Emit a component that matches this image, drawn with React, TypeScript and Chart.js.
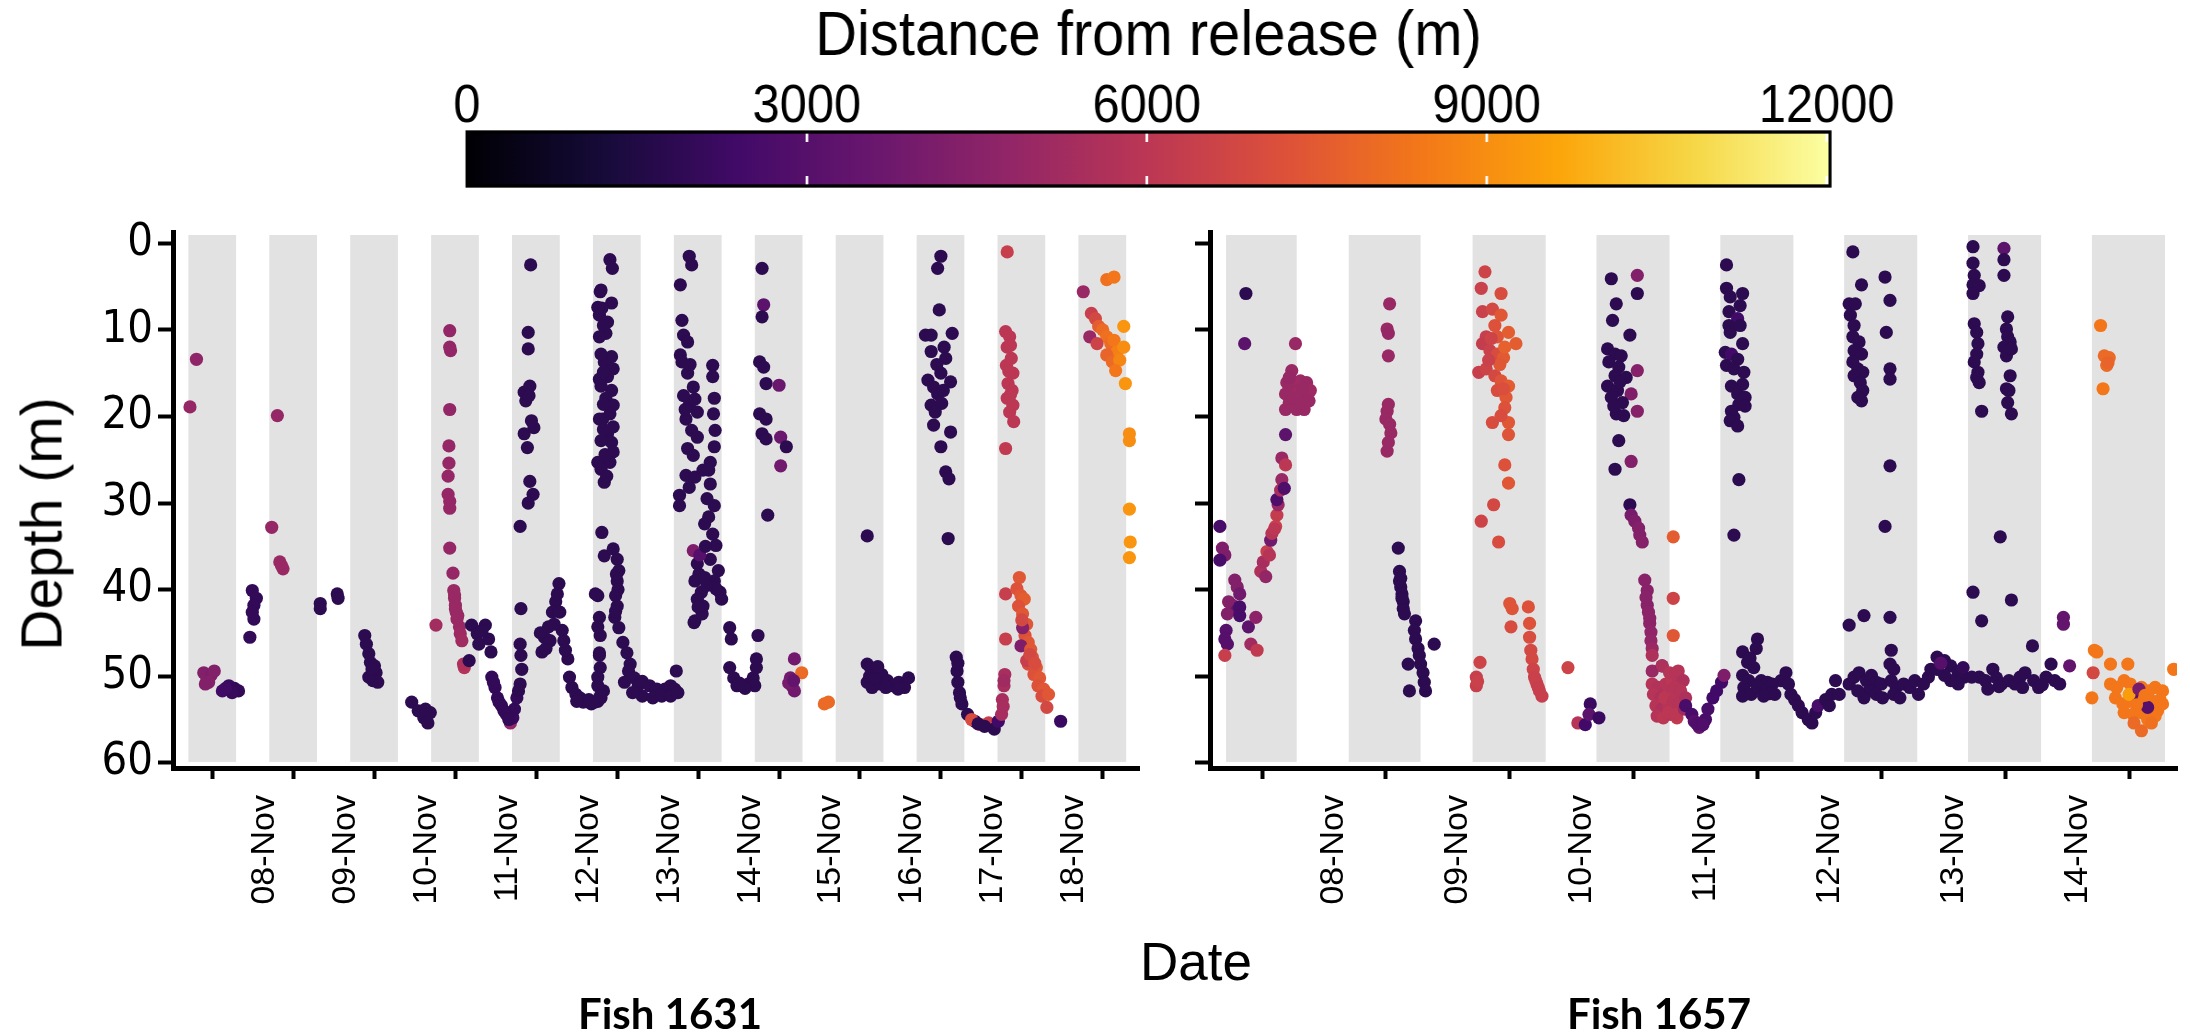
import React, { useEffect, useRef } from 'react';
import { Chart, registerables } from 'chart.js';

Chart.register(...registerables);

const FONT = "'Liberation Sans', Arial, Helvetica, sans-serif";
const NARROW_FONT = "'Liberation Sans Narrow', 'Arial Narrow', 'DejaVu Sans Condensed', 'Liberation Sans', sans-serif";

// ---------- colour bar ----------
const distanceTicks = [0, 3000, 6000, 9000, 12000];
const distanceTickLabels = ['0', '3000', '6000', '9000', '12000'];
const distanceMax = 12030;
const infernoStops = ['#000004', '#160b39', '#420a68', '#6a176e', '#932667', '#bc3754', '#dd513a', '#f37819', '#fca50a', '#f6d746', '#fcffa4'];

// ---------- axes ----------
const depthTicks = [0, 10, 20, 30, 40, 50, 60];
const leftTickDays = [8, 9, 10, 11, 12, 13, 14, 15, 16, 17, 18, 19];
const leftTickLabels = ['08-Nov', '09-Nov', '10-Nov', '11-Nov', '12-Nov', '13-Nov', '14-Nov', '15-Nov', '16-Nov', '17-Nov', '18-Nov', ''];
const rightTickDays = [8, 9, 10, 11, 12, 13, 14, 15];
const rightTickLabels = ['08-Nov', '09-Nov', '10-Nov', '11-Nov', '12-Nov', '13-Nov', '14-Nov', ''];

// night periods (grey bands), in days of November
const leftNights = [[7.70, 8.29], [8.70, 9.29], [9.70, 10.29], [10.70, 11.29], [11.70, 12.29], [12.70, 13.29], [13.70, 14.29], [14.70, 15.29], [15.70, 16.29], [16.70, 17.29], [17.70, 18.29], [18.70, 19.29]];
const rightNights = [[7.71, 8.28], [8.70, 9.28], [9.70, 10.29], [10.70, 11.29], [11.70, 12.29], [12.70, 13.29], [13.70, 14.29], [14.70, 15.29]];

// [day of November, depth (m), distance from release (m)]
const fish1631 = [
  [7.72, 18.9, 4900], [7.80, 13.4, 4700],
  [7.89, 49.6, 4300], [7.93, 50.3, 4300], [7.98, 49.9, 4200], [8.02, 49.4, 4300], [7.95, 50.7, 4400], [7.91, 50.9, 4300],
  [8.12, 51.7, 2400], [8.20, 51.1, 2200], [8.27, 51.4, 2000], [8.32, 51.7, 2000], [8.24, 51.9, 2100], [8.16, 51.4, 2300],
  [8.49, 40.1, 2000], [8.54, 41.0, 2000], [8.51, 41.8, 2000], [8.49, 42.6, 2000], [8.51, 43.4, 2000], [8.46, 45.5, 2000],
  [8.80, 19.9, 4900], [8.73, 32.8, 4900], [8.83, 36.8, 5000], [8.87, 37.6, 5000], [8.85, 37.2, 5000],
  [9.33, 41.6, 1800], [9.33, 42.2, 1800], [9.54, 40.5, 1800], [9.55, 41.0, 1800],
  [9.88, 45.3, 1800], [9.90, 46.3, 1800], [9.93, 47.4, 1800], [9.95, 48.4, 1800], [10.00, 48.8, 1800], [10.02, 49.6, 1800], [9.98, 50.5, 1800], [10.04, 50.7, 1800], [9.93, 50.1, 1800], [9.97, 49.2, 1800],
  [10.46, 53.0, 1800], [10.54, 54.0, 1800], [10.61, 54.8, 1800], [10.66, 55.4, 1800], [10.69, 54.2, 1800], [10.63, 53.8, 1800],
  [10.93, 10.1, 4800], [10.94, 12.4, 4800], [10.93, 12.0, 4800], [10.93, 19.2, 4800], [10.92, 23.4, 4900], [10.92, 25.4, 4900], [10.91, 26.9, 4900], [10.91, 29.0, 4900], [10.93, 29.8, 4900], [10.93, 30.6, 4900], [10.93, 35.2, 4900], [10.97, 38.1, 4900], [10.98, 40.1, 5000], [10.99, 41.0, 5000], [11.00, 41.8, 5000], [11.01, 42.6, 5000], [11.02, 43.4, 5000], [11.05, 44.3, 5000], [11.06, 45.1, 5100], [11.08, 45.9, 5200], [10.99, 40.6, 5000], [11.00, 42.2, 5000], [11.03, 43.0, 5000],
  [10.76, 44.1, 5300], [11.11, 49.0, 5800], [11.10, 48.6, 5600],
  [11.20, 44.1, 1800], [11.27, 45.1, 1800], [11.37, 44.1, 1800], [11.41, 45.7, 1800], [11.44, 47.2, 1800], [11.29, 46.3, 1800], [11.17, 48.2, 1800], [11.33, 44.7, 1800],
  [11.45, 50.1, 2000], [11.49, 51.3, 2000], [11.52, 52.5, 2000], [11.57, 53.4, 2000], [11.63, 54.4, 2200], [11.68, 55.4, 4800], [11.71, 54.8, 2200], [11.73, 53.8, 2000], [11.76, 52.5, 2000], [11.80, 50.9, 1800], [11.82, 49.2, 1800], [11.81, 47.6, 1800], [11.80, 46.3, 1800], [11.80, 32.7, 1800], [11.81, 42.2, 1800], [11.47, 50.7, 2000], [11.54, 53.0, 2000], [11.60, 54.0, 2000], [11.66, 55.0, 2000], [11.78, 51.7, 1800],
  [11.93, 2.5, 1800], [11.90, 10.3, 1800], [11.90, 12.2, 1800], [11.85, 17.2, 1800], [11.92, 16.5, 1800], [11.87, 18.2, 1800], [11.97, 21.3, 1800], [11.85, 22.0, 1800], [11.89, 23.6, 1800], [11.92, 27.5, 1800], [11.96, 29.0, 1800], [11.90, 30.0, 1800], [11.91, 17.6, 1800], [11.94, 20.5, 1800],
  [12.28, 39.3, 1800], [12.24, 41.4, 1800], [12.20, 42.6, 1800], [12.15, 44.3, 1800], [12.10, 45.5, 1800], [12.07, 47.2, 1800], [12.17, 45.9, 1800], [12.29, 42.6, 1800], [12.32, 44.7, 1800], [12.34, 45.9, 1800], [12.39, 48.0, 1800], [12.41, 50.1, 1800], [12.44, 51.3, 1800], [12.49, 52.1, 1800], [12.12, 46.8, 1800], [12.22, 44.0, 1800], [12.26, 40.5, 1800], [12.05, 45.0, 1800], [12.36, 47.0, 1800],
  [12.54, 52.5, 1800], [12.61, 52.9, 1800], [12.68, 53.2, 1800], [12.76, 52.9, 1800], [12.80, 52.5, 1800], [12.83, 51.7, 1800], [12.58, 53.0, 1800], [12.65, 52.7, 1800], [12.72, 53.0, 1800], [12.50, 52.9, 1800],
  [12.91, 1.9, 1800], [12.94, 2.9, 1800], [12.79, 5.6, 1800], [12.93, 6.9, 1800], [12.81, 7.5, 1800], [12.88, 9.1, 1800], [12.86, 10.4, 1800], [12.93, 13.1, 1800], [12.84, 13.7, 1800], [12.95, 14.5, 1800], [12.88, 15.4, 1800], [12.79, 15.8, 1800], [12.93, 17.0, 1800], [12.86, 17.9, 1800], [12.95, 18.7, 1800], [12.91, 19.7, 1800], [12.82, 20.3, 1800], [12.95, 21.2, 1800], [12.88, 22.0, 1800], [12.93, 23.0, 1800], [12.95, 24.1, 1800], [12.91, 25.3, 1800], [12.84, 27.6, 1800], [12.76, 25.3, 1800],
  [12.80, 5.4, 1800], [12.76, 7.4, 1800], [12.78, 8.3, 1800], [12.83, 9.5, 1800], [12.78, 10.8, 1800], [12.80, 12.8, 1800], [12.83, 14.9, 1800], [12.78, 15.7, 1800], [12.80, 16.5, 1800], [12.83, 18.6, 1800], [12.78, 20.3, 1800], [12.83, 21.5, 1800], [12.80, 22.8, 1800], [12.85, 24.4, 1800], [12.80, 26.1, 1800], [12.87, 26.9, 1800],
  [12.81, 33.4, 1800], [12.84, 36.1, 1800], [12.76, 40.7, 1800], [12.78, 43.2, 1800], [12.79, 45.3, 1800], [12.78, 47.3, 1800], [12.79, 49.0, 1800], [12.76, 51.1, 1800], [12.79, 52.3, 1800], [12.73, 40.5, 1800], [12.76, 44.3, 1800], [12.78, 47.6, 1800], [12.76, 50.1, 1800],
  [12.95, 35.3, 1800], [13.00, 36.5, 1800], [13.02, 37.8, 1800], [13.00, 39.0, 1800], [12.98, 40.7, 1800], [13.00, 41.9, 1800], [12.97, 43.2, 1800], [13.02, 44.4, 1800], [13.07, 46.1, 1800], [13.12, 47.3, 1800], [13.16, 48.6, 1800], [13.14, 49.4, 1800], [13.21, 50.2, 1800], [13.26, 51.1, 1800], [13.31, 50.6, 1800], [13.40, 51.1, 1800], [13.49, 51.5, 1800], [13.59, 51.5, 1800], [13.66, 51.1, 1800], [13.71, 51.5, 1800], [13.73, 49.4, 1800], [13.19, 51.9, 1800], [13.31, 52.3, 1800], [13.44, 52.5, 1800], [13.55, 52.3, 1800], [13.66, 52.3, 1800], [13.75, 51.9, 1800], [13.09, 50.7, 1800], [12.99, 38.2, 1800], [13.01, 40.0, 1800], [12.98, 42.5, 1800],
  [13.89, 1.5, 1800], [13.92, 2.5, 1800], [13.78, 4.8, 1800], [13.80, 8.9, 1800], [13.82, 10.6, 1800], [13.87, 11.4, 1800], [13.78, 12.9, 1800], [13.80, 13.7, 1800], [13.87, 15.0, 1800], [13.94, 16.6, 1800], [13.82, 17.6, 1800], [13.89, 18.7, 1800], [13.99, 19.5, 1800], [13.85, 20.3, 1800], [13.92, 21.6, 1800], [13.99, 22.4, 1800], [13.87, 23.7, 1800], [13.94, 24.5, 1800], [13.85, 26.8, 1800], [13.96, 27.0, 1800], [13.89, 28.2, 1800], [13.77, 29.1, 1800], [13.77, 30.3, 1800], [13.84, 19.2, 1800], [13.90, 14.0, 1800], [13.96, 18.0, 1800],
  [14.18, 14.1, 1800], [14.18, 15.4, 1800], [14.20, 17.9, 1800], [14.19, 19.7, 1800], [14.21, 21.6, 1800], [14.15, 25.3, 1800], [14.13, 26.2, 1800], [14.15, 27.8, 1800], [14.20, 30.3, 1800], [14.13, 31.6, 1800], [14.18, 33.6, 1800], [14.22, 34.9, 1800], [14.15, 36.5, 1800], [14.25, 37.8, 1800], [14.20, 39.0, 1800], [14.27, 40.3, 1800], [14.29, 41.1, 1800], [14.22, 39.9, 1800], [14.20, 23.5, 1800],
  [13.94, 35.5, 4200], [13.99, 37.0, 1800], [14.01, 38.2, 1800], [13.96, 39.0, 1800], [14.04, 40.3, 1800], [13.99, 41.1, 1800], [14.06, 41.9, 1800], [13.96, 43.6, 1800], [13.95, 43.8, 1800], [14.08, 38.6, 1800], [14.11, 39.5, 1800], [14.08, 32.4, 1800], [14.11, 29.5, 1800], [14.06, 26.2, 1800], [14.02, 36.0, 3000], [14.05, 42.8, 1800], [14.00, 42.0, 1800], [14.09, 35.0, 1800],
  [14.39, 44.4, 1800], [14.41, 45.7, 1800], [14.39, 49.0, 1800], [14.44, 50.2, 1800], [14.48, 51.1, 1800], [14.55, 51.1, 1800], [14.62, 50.9, 1800], [14.68, 50.2, 1800], [14.72, 49.0, 1800], [14.72, 48.0, 1800], [14.74, 45.3, 1800], [14.70, 51.1, 1800], [14.51, 50.8, 1800], [14.58, 51.4, 1800],
  [14.79, 2.9, 1800], [14.81, 7.1, 3200], [14.79, 8.5, 1800], [14.76, 13.7, 1800], [14.81, 14.3, 1800], [14.84, 16.2, 1800], [15.00, 16.4, 3600], [14.76, 19.7, 1800], [14.84, 20.3, 1800], [14.79, 22.0, 1800], [14.84, 22.6, 1800], [15.02, 22.4, 3600], [15.09, 23.5, 1800], [15.02, 25.7, 3800], [14.86, 31.4, 1800],
  [15.19, 48.0, 3800], [15.14, 50.2, 3800], [15.16, 51.1, 3600], [15.19, 51.7, 3800], [15.28, 49.6, 8000], [15.12, 50.8, 4000], [15.18, 50.5, 3400],
  [15.56, 53.2, 8000], [15.61, 53.0, 8000],
  [16.09, 33.8, 1800], [16.09, 48.6, 1800], [16.13, 49.0, 1800], [16.20, 49.4, 1800], [16.27, 49.8, 1800], [16.09, 50.7, 1800], [16.15, 51.3, 1800], [16.25, 50.9, 1800], [16.34, 50.5, 1800], [16.41, 51.1, 1800], [16.48, 50.7, 1800], [16.55, 51.3, 1800], [16.60, 50.2, 1800], [16.32, 51.3, 1800], [16.47, 51.5, 1800], [16.12, 50.0, 1800], [16.18, 50.2, 1800], [16.22, 48.9, 1800],
  [17.00, 1.5, 1800], [16.96, 2.9, 1800], [16.98, 7.7, 1800], [16.81, 10.6, 1800], [16.88, 10.6, 1800], [17.14, 10.4, 1800], [16.88, 12.5, 1800], [17.04, 12.0, 1800], [17.06, 13.3, 1800], [16.84, 15.8, 1800], [16.91, 16.6, 1800], [17.00, 15.0, 1800], [17.12, 16.0, 1800], [16.96, 17.4, 1800], [16.88, 18.7, 1800], [17.01, 18.5, 1800], [16.93, 19.5, 1800], [16.91, 21.0, 1800], [17.12, 21.8, 1800], [17.00, 23.5, 1800], [17.06, 26.4, 1800], [17.10, 27.2, 1800], [17.09, 34.1, 1800], [16.95, 14.0, 1800], [17.03, 17.0, 1800],
  [17.19, 47.8, 1800], [17.20, 49.4, 1800], [17.21, 50.7, 1800], [17.23, 51.9, 1800], [17.26, 53.2, 1800], [17.33, 54.4, 1800], [17.42, 55.2, 1800], [17.49, 55.6, 7400], [17.59, 55.4, 6400], [17.66, 56.1, 1800], [17.71, 55.2, 2400], [17.38, 55.0, 7000], [17.46, 55.5, 1800], [17.54, 55.8, 1800], [17.21, 48.5, 1800], [17.24, 52.5, 1800],
  [17.75, 54.4, 5400], [17.76, 52.7, 5400], [17.78, 51.1, 5400], [17.79, 49.8, 5400], [17.80, 45.7, 6400], [17.80, 40.5, 6400], [17.77, 53.5, 5400], [17.78, 50.5, 5200],
  [17.82, 1.0, 6400], [17.80, 10.2, 6000], [17.85, 10.8, 6000], [17.82, 12.0, 6000], [17.87, 13.3, 6000], [17.81, 14.1, 6000], [17.89, 15.0, 6000], [17.83, 16.2, 6000], [17.88, 17.0, 6000], [17.82, 17.9, 6000], [17.89, 18.7, 6000], [17.85, 19.5, 6000], [17.90, 20.6, 6000], [17.80, 23.7, 6200], [17.84, 14.8, 6000], [17.86, 11.8, 6000], [17.86, 17.5, 6000],
  [17.97, 38.6, 7400], [17.94, 39.9, 7200], [17.99, 40.7, 7400], [18.03, 41.1, 7600], [17.96, 41.9, 7200], [18.01, 42.8, 7400], [18.06, 44.0, 7400], [18.04, 45.3, 7200], [18.08, 46.1, 7400], [17.99, 46.5, 4200], [18.11, 46.9, 7400], [18.13, 47.8, 7200], [18.08, 48.6, 7000], [18.18, 49.0, 7400], [18.15, 49.8, 7200], [18.22, 50.2, 7400], [18.20, 51.1, 7200], [18.27, 51.5, 7400], [18.25, 52.3, 7000], [18.33, 52.1, 7400], [18.31, 53.6, 6800], [18.48, 55.2, 2200], [18.06, 48.2, 6400], [18.01, 44.4, 4400], [18.00, 43.5, 6800], [18.10, 47.5, 6800], [18.16, 48.5, 7000],
  [18.76, 5.6, 5000], [19.05, 4.2, 8200], [19.14, 3.9, 8400], [18.86, 8.1, 6400], [18.91, 8.7, 6800], [18.84, 10.8, 5000], [18.95, 9.6, 7600], [19.00, 10.0, 8000], [19.05, 10.8, 8200], [18.93, 11.6, 6600], [19.10, 11.6, 8000], [19.14, 11.2, 8400], [19.18, 12.5, 8600], [19.05, 12.9, 7800], [19.12, 13.7, 8000], [19.21, 13.5, 8800], [19.26, 9.6, 9200], [19.26, 12.0, 9000], [19.28, 16.2, 9200], [19.16, 14.7, 8400],
  [19.33, 22.0, 9000], [19.33, 22.8, 9000], [19.33, 30.7, 9200], [19.34, 34.5, 9200], [19.33, 36.3, 9200],
];

const fish1657 = [
  [7.87, 5.8, 1800], [7.86, 11.6, 3200],
  [7.66, 32.7, 2600], [7.68, 35.2, 4200], [7.70, 36.0, 4200], [7.66, 36.6, 2600], [7.78, 38.9, 4300], [7.80, 39.7, 4300], [7.82, 40.5, 3800], [7.73, 41.4, 4400], [7.76, 41.8, 4300], [7.80, 42.4, 3200], [7.82, 42.0, 2600], [7.72, 42.8, 4300], [7.82, 43.0, 2600], [7.71, 44.7, 3000], [7.70, 45.7, 3000], [7.72, 46.3, 3000], [7.70, 47.6, 6400],
  [7.89, 44.3, 3200], [7.95, 43.2, 4600], [7.91, 46.3, 5200], [7.96, 47.0, 6200],
  [7.99, 37.9, 5600], [8.01, 36.8, 5400], [8.04, 35.6, 6400], [8.07, 34.3, 3800], [8.08, 33.5, 5800], [8.11, 32.7, 6500], [8.12, 31.4, 6300], [8.13, 30.2, 5000], [8.12, 29.6, 2800], [8.15, 28.5, 5400], [8.16, 27.3, 5000], [8.18, 28.3, 2800], [8.16, 24.8, 5000], [8.19, 25.6, 6000], [8.19, 22.1, 3200], [8.03, 38.5, 4800], [8.06, 36.0, 5800], [8.10, 33.0, 6000],
  [8.24, 14.7, 5000], [8.20, 16.1, 5000], [8.26, 16.1, 5000], [8.31, 15.9, 5100], [8.36, 16.1, 5000], [8.19, 17.4, 5000], [8.24, 17.4, 5000], [8.30, 17.2, 5100], [8.35, 17.4, 5000], [8.39, 17.0, 5100], [8.22, 18.4, 5000], [8.27, 18.6, 5000], [8.32, 18.4, 5000], [8.38, 18.2, 5000], [8.19, 19.2, 5000], [8.28, 19.2, 5000], [8.34, 19.2, 5000], [8.27, 11.6, 5000], [8.22, 15.5, 4900], [8.33, 16.8, 5000], [8.28, 17.8, 5000],
  [9.03, 7.0, 5000], [9.01, 9.9, 5000], [9.02, 13.0, 5000], [9.02, 18.6, 5000], [9.01, 19.4, 5000], [9.00, 20.3, 5000], [9.03, 20.9, 5000], [9.04, 21.9, 5000], [9.02, 23.0, 5000], [9.01, 24.0, 5000], [9.02, 10.4, 4900],
  [9.10, 35.2, 1800], [9.11, 37.9, 1800], [9.12, 38.7, 1800], [9.12, 39.7, 1800], [9.13, 40.5, 1800], [9.14, 41.4, 1800], [9.14, 42.2, 1800], [9.15, 42.8, 1800], [9.24, 43.6, 1800], [9.23, 44.7, 1800], [9.24, 45.7, 1800], [9.26, 46.8, 1800], [9.27, 47.6, 1800], [9.28, 48.6, 1800], [9.30, 49.6, 1800], [9.31, 50.7, 1800], [9.32, 51.7, 1800], [9.18, 48.6, 1800], [9.19, 51.7, 1800], [9.39, 46.3, 1800], [9.11, 39.0, 1800], [9.13, 41.0, 1800],
  [9.80, 3.3, 6600], [9.77, 5.2, 6500], [9.93, 5.8, 7000], [9.78, 7.9, 6500], [9.86, 7.6, 6800], [9.93, 8.3, 7400], [9.88, 9.5, 7200], [9.81, 10.8, 6400], [9.90, 10.8, 7300], [9.99, 10.3, 7600], [10.05, 11.6, 7600], [9.78, 11.6, 6300], [9.84, 12.4, 6500], [9.90, 12.8, 7000], [9.95, 13.2, 7500], [9.75, 14.9, 6400], [9.81, 14.5, 6600], [9.88, 15.3, 6800], [9.93, 15.9, 7300], [9.99, 16.5, 7600], [9.90, 17.0, 7000], [9.97, 17.8, 7400], [9.96, 19.0, 7200], [9.86, 20.7, 7000], [9.99, 20.7, 7400], [9.99, 22.1, 7300], [9.93, 19.9, 7000], [9.85, 11.0, 6600], [9.92, 14.0, 7400], [9.96, 12.0, 7700], [9.83, 13.5, 6500], [9.95, 16.8, 7100],
  [9.96, 25.6, 7200], [9.99, 27.7, 7400], [9.87, 30.2, 6800], [9.77, 32.1, 6600], [9.91, 34.5, 7000],
  [10.00, 41.6, 7300], [10.02, 42.2, 7300], [10.15, 42.0, 7200], [10.01, 44.3, 7000], [10.16, 43.9, 7200], [10.16, 45.5, 7000], [10.17, 47.0, 6800], [10.18, 48.0, 6800], [10.19, 49.2, 6600], [10.20, 50.1, 6500], [10.22, 50.9, 6500], [10.24, 51.7, 6500], [10.26, 52.3, 6400], [10.21, 50.5, 6500], [10.23, 51.3, 6400],
  [9.76, 48.4, 6600], [9.73, 50.1, 6400], [9.73, 51.1, 6400], [9.74, 50.6, 6500],
  [10.47, 49.0, 6600], [10.55, 55.4, 5800], [10.61, 55.6, 2400], [10.65, 53.2, 2200], [10.64, 54.4, 3200], [10.72, 54.8, 2200],
  [10.82, 4.1, 1800], [11.03, 3.7, 4300], [11.03, 5.8, 1800], [10.86, 7.0, 1800], [10.83, 8.9, 1800], [10.97, 10.6, 1800], [10.79, 12.2, 1800], [10.85, 12.8, 1800], [10.90, 13.0, 1800], [10.80, 13.7, 1800], [10.88, 14.3, 1800], [11.03, 14.7, 4400], [10.85, 15.3, 1800], [10.94, 15.5, 1800], [10.79, 16.5, 1800], [10.87, 17.0, 1800], [10.98, 17.4, 4200], [10.82, 17.8, 1800], [10.91, 18.4, 1800], [10.86, 19.7, 1800], [10.92, 19.9, 1800], [11.03, 19.4, 4400], [10.88, 22.8, 1800], [10.98, 25.2, 4300], [10.85, 26.1, 1800], [10.89, 16.0, 1800], [10.84, 18.8, 1800],
  [10.97, 30.2, 1800], [10.98, 31.4, 4000], [11.01, 32.1, 4200], [11.04, 32.9, 4300], [11.05, 33.7, 4300], [11.07, 34.5, 4400], [11.09, 38.9, 4500], [11.11, 40.1, 4500], [11.11, 41.8, 4500], [11.12, 42.6, 4600], [11.13, 43.9, 4600], [11.14, 44.9, 4700], [11.14, 45.9, 4800], [11.15, 46.8, 5000], [11.15, 47.6, 5600], [11.15, 49.4, 5000], [11.23, 48.8, 2400], [11.10, 40.9, 4500], [11.13, 43.3, 4600],
  [11.32, 33.9, 7600], [11.32, 41.0, 6600], [11.32, 45.3, 7400],
  [11.15, 50.9, 5800], [11.20, 51.3, 5700], [11.26, 50.9, 5800], [11.31, 50.5, 6000], [11.36, 50.1, 5800], [11.16, 52.1, 5800], [11.22, 52.5, 5600], [11.27, 52.3, 5800], [11.33, 52.1, 6000], [11.18, 53.4, 5800], [11.23, 53.8, 5600], [11.28, 53.4, 5800], [11.34, 53.2, 6000], [11.19, 54.6, 5800], [11.24, 54.8, 6000], [11.30, 54.4, 5800], [11.35, 54.8, 6200], [11.23, 48.8, 5600], [11.29, 49.6, 5800], [11.36, 49.4, 5800], [11.40, 50.5, 5600], [11.33, 51.3, 5800], [11.38, 51.7, 5800], [11.25, 52.5, 6000], [11.32, 52.9, 5800], [11.37, 53.2, 5800], [11.42, 52.5, 5600], [11.28, 54.2, 6000], [11.34, 54.4, 6000], [11.41, 53.8, 5200],
  [11.42, 53.4, 2600], [11.47, 54.4, 2600], [11.49, 55.2, 3000], [11.53, 55.9, 3400], [11.58, 55.0, 2600], [11.60, 53.8, 2600], [11.64, 52.5, 2400], [11.67, 51.7, 2400], [11.71, 50.7, 2400], [11.73, 49.9, 4200], [11.51, 55.5, 2800], [11.56, 55.6, 2800],
  [11.75, 2.5, 1800], [11.75, 5.2, 1800], [11.78, 6.2, 1800], [11.88, 5.8, 1800], [11.77, 7.9, 1800], [11.86, 7.2, 1800], [11.84, 8.7, 2400], [11.77, 9.5, 1800], [11.78, 10.3, 1800], [11.86, 9.5, 1800], [11.88, 11.6, 1800], [11.74, 12.6, 1800], [11.79, 12.8, 2400], [11.84, 13.4, 1800], [11.75, 14.1, 1800], [11.81, 14.5, 1800], [11.89, 14.9, 1800], [11.88, 16.3, 1800], [11.79, 16.5, 1800], [11.84, 17.4, 1800], [11.90, 17.8, 1800], [11.85, 18.6, 1800], [11.90, 18.8, 1800], [11.79, 19.4, 1800], [11.81, 20.1, 1800], [11.78, 20.5, 1800], [11.84, 21.1, 1800], [11.85, 27.3, 1800], [11.81, 33.7, 1800],
  [11.88, 47.2, 1800], [12.00, 45.7, 1800], [11.99, 46.8, 1800], [11.92, 48.4, 1800], [11.97, 49.0, 1800], [11.88, 49.9, 1800], [11.93, 50.5, 1800], [11.89, 51.3, 1800], [11.88, 52.3, 1800], [11.95, 52.1, 1800], [12.00, 51.3, 1800], [12.03, 50.5, 1800], [12.08, 50.7, 1800], [12.12, 50.9, 1800], [12.07, 51.7, 1800], [12.14, 52.1, 1800], [12.19, 50.5, 1800], [12.23, 49.6, 1800], [12.25, 50.9, 1800], [12.27, 52.1, 1800], [12.30, 52.7, 1800], [12.33, 53.4, 1800], [12.36, 54.2, 1800], [12.41, 55.0, 1800], [12.44, 55.4, 1800], [12.47, 54.2, 1800], [12.49, 53.4, 2600], [12.55, 52.7, 1800], [12.60, 52.1, 1800], [12.63, 50.5, 1800], [12.58, 53.4, 1800], [12.66, 52.1, 1800], [11.94, 47.9, 1800], [12.10, 52.0, 1800], [12.05, 52.3, 1800],
  [12.77, 1.0, 1800], [12.84, 4.8, 1800], [12.74, 7.0, 1800], [12.79, 7.0, 1800], [12.75, 8.3, 1800], [12.78, 9.5, 1800], [12.77, 10.8, 1800], [12.82, 11.4, 1800], [12.78, 12.4, 1800], [12.84, 12.8, 1800], [12.77, 13.7, 1800], [12.81, 14.5, 1800], [12.85, 14.9, 1800], [12.78, 15.3, 1800], [12.83, 16.1, 1800], [12.85, 17.0, 1800], [12.81, 17.8, 1800], [12.84, 18.2, 1800], [13.03, 3.9, 1800], [13.07, 6.6, 1800], [13.04, 10.3, 1800], [13.07, 14.5, 1800], [13.07, 15.7, 1800], [13.07, 25.7, 1800], [13.03, 32.7, 1800], [12.74, 44.1, 1800], [12.86, 43.0, 1800], [13.07, 43.2, 1800], [13.08, 47.0, 1800],
  [12.74, 50.9, 1800], [12.78, 50.1, 1800], [12.82, 49.6, 1800], [12.88, 50.5, 1800], [12.92, 49.9, 1800], [12.96, 50.7, 1800], [13.00, 50.9, 1800], [12.90, 51.7, 1800], [12.86, 52.5, 1800], [12.81, 51.7, 1800], [12.96, 52.1, 1800], [13.01, 52.5, 1800], [13.07, 48.6, 1800], [13.10, 49.2, 1800], [13.08, 50.5, 1800], [13.12, 51.3, 1800], [13.10, 52.1, 1800], [13.15, 52.5, 1800], [13.18, 50.9, 1800], [13.23, 51.3, 1800], [13.27, 50.5, 1800], [13.30, 52.1, 1800], [13.34, 50.9, 1800], [13.38, 50.1, 1800], [13.40, 49.2, 1800], [13.45, 47.8, 1800], [13.51, 48.2, 1800], [13.56, 48.8, 1800], [13.62, 49.6, 1800], [13.67, 50.1, 1800], [13.66, 49.0, 2000], [13.62, 50.9, 1800], [13.56, 50.5, 1800], [13.51, 49.9, 1800], [13.45, 49.2, 1800], [13.73, 50.1, 1800], [13.48, 48.5, 3000],
  [13.74, 0.4, 1800], [13.74, 2.3, 1800], [13.75, 3.7, 1800], [13.74, 4.8, 1800], [13.79, 4.9, 1800], [13.74, 5.8, 1800], [13.75, 9.3, 1800], [13.77, 10.3, 1800], [13.78, 11.6, 1800], [13.77, 12.8, 1800], [13.75, 13.7, 1800], [13.78, 14.9, 1800], [13.77, 15.5, 1800], [13.79, 16.1, 1800], [13.81, 19.4, 1800], [13.99, 0.6, 3200], [13.99, 1.9, 1800], [13.99, 3.7, 1800], [14.02, 8.5, 1800], [14.01, 9.9, 1800], [14.02, 10.8, 1800], [14.04, 11.4, 1800], [13.99, 12.0, 1800], [14.01, 13.0, 1800], [14.05, 12.2, 1800], [14.04, 15.3, 1800], [14.01, 16.8, 1800], [14.03, 17.0, 1800], [14.02, 18.4, 1800], [14.05, 19.7, 1800], [13.96, 33.9, 1800], [13.74, 40.3, 1800], [13.81, 43.6, 1800], [14.05, 41.2, 1800],
  [13.79, 50.1, 1800], [13.84, 50.5, 1800], [13.90, 49.2, 1800], [13.93, 50.2, 1800], [13.97, 50.9, 1800], [14.03, 50.5, 1800], [14.08, 50.9, 1800], [14.12, 50.1, 1800], [14.16, 49.6, 1800], [14.22, 46.5, 1800], [14.23, 50.5, 1800], [14.27, 51.3, 1800], [14.33, 50.1, 1800], [14.37, 48.6, 1800], [14.40, 50.5, 1800], [14.44, 50.9, 1800], [13.95, 51.2, 1800], [14.14, 51.3, 1800], [13.86, 51.5, 1800], [14.47, 43.2, 3400], [14.47, 44.0, 3400], [14.52, 48.8, 3400], [14.30, 51.0, 1800],
  [14.77, 9.5, 8400], [14.80, 13.0, 8000], [14.84, 13.2, 8000], [14.82, 14.1, 8000], [14.79, 16.8, 8400], [14.83, 13.8, 7800],
  [14.72, 47.0, 8400], [14.74, 47.2, 8400], [14.85, 48.6, 8400], [14.99, 48.6, 8400], [14.71, 49.6, 6800], [14.70, 52.5, 8400], [14.85, 50.9, 8400], [14.90, 51.3, 8400], [14.96, 50.5, 8400], [15.01, 50.9, 8400], [15.04, 51.7, 8400], [15.10, 51.3, 8400], [15.16, 51.7, 8400], [15.21, 51.3, 8400], [15.27, 51.7, 8400], [14.89, 52.5, 8400], [14.95, 53.2, 8400], [15.00, 52.9, 8400], [15.07, 52.5, 3000], [15.12, 52.7, 8400], [15.19, 52.9, 8400], [15.25, 52.7, 8400], [14.96, 54.2, 8400], [15.03, 54.4, 8400], [15.10, 54.2, 8400], [15.16, 53.8, 8400], [15.23, 54.0, 8400], [15.27, 53.2, 8400], [15.04, 55.4, 8000], [15.10, 56.3, 8000], [15.15, 55.0, 8400], [15.21, 54.6, 8400], [15.36, 49.2, 8400], [15.00, 52.1, 9400], [15.15, 53.6, 3000], [15.08, 51.5, 4000], [15.13, 52.2, 8400], [15.06, 53.3, 8400], [15.18, 55.4, 8200],
];

function hexToRgb(h: string) {
  return [parseInt(h.slice(1, 3), 16), parseInt(h.slice(3, 5), 16), parseInt(h.slice(5, 7), 16)];
}
function inferno(t: number) {
  const c = Math.max(0, Math.min(1, t)) * (infernoStops.length - 1);
  const i = Math.min(Math.floor(c), infernoStops.length - 2);
  const f = c - i;
  const a = hexToRgb(infernoStops[i]);
  const b = hexToRgb(infernoStops[i + 1]);
  const m = a.map((v, k) => Math.round(v + (b[k] - v) * f));
  return `rgb(${m[0]},${m[1]},${m[2]})`;
}

// the colour-bar canvas is drawn wider and squeezed horizontally (narrow lettering as in the figure)
const CB_SQUEEZE = 0.92;
const CB_W = Math.round(2190 / CB_SQUEEZE);

const colorBarPlugin = {
  id: 'colorBar',
  afterDraw(chart: any) {
    const { ctx, chartArea } = chart;
    const x = chart.scales.x;
    const x0 = x.getPixelForValue(0);
    const x1 = x.getPixelForValue(distanceMax);
    const top = chartArea.top;
    const bottom = chartArea.bottom;
    ctx.save();
    const g = ctx.createLinearGradient(x0, 0, x1, 0);
    infernoStops.forEach((c, i) => g.addColorStop(i / (infernoStops.length - 1), c));
    ctx.fillStyle = g;
    ctx.fillRect(x0, top, x1 - x0, bottom - top);
    ctx.strokeStyle = '#ffffff';
    ctx.lineWidth = 2.8;
    for (const v of distanceTicks) {
      if (v <= 0 || v >= distanceMax) continue;
      const px = x.getPixelForValue(v);
      ctx.beginPath();
      ctx.moveTo(px, top);
      ctx.lineTo(px, top + 10);
      ctx.moveTo(px, bottom - 10);
      ctx.lineTo(px, bottom);
      ctx.stroke();
    }
    ctx.strokeStyle = '#000000';
    ctx.lineWidth = 3.3;
    ctx.strokeRect(x0, top, x1 - x0, bottom - top);
    ctx.restore();
  },
};

function nightBandsPlugin(nights: number[][]) {
  return {
    id: 'nightBands',
    beforeDatasetsDraw(chart: any) {
      const { ctx } = chart;
      const x = chart.scales.x;
      const y = chart.scales.y;
      const yTop = y.getPixelForValue(-0.95);
      const yBot = y.getPixelForValue(59.9);
      ctx.save();
      ctx.fillStyle = '#e2e2e2';
      for (const [s, e] of nights) {
        const a = x.getPixelForValue(s);
        const b = x.getPixelForValue(e);
        ctx.fillRect(a, yTop, b - a, yBot - yTop);
      }
      ctx.restore();
    },
  };
}

function panelConfig(points: number[][], tickDays: number[], tickLabels: string[], nights: number[][], xMin: number, xMax: number, yAxisWidth: number, showY: boolean, labelOffset: number, padRight: number) {
  const axisGrid = (len: number) => ({ display: true, drawOnChartArea: false, drawTicks: true, tickLength: len, tickWidth: 4, tickColor: '#000' });
  const border = { display: true, color: '#000', width: 5 };
  return {
    type: 'scatter',
    data: {
      datasets: [{
        data: points.map((p) => ({ x: p[0], y: p[1] })),
        backgroundColor: points.map((p) => inferno(p[2] / distanceMax)),
        pointRadius: 6.6,
        pointHoverRadius: 6.6,
        borderWidth: 0,
        pointBorderWidth: 0,
      }],
    },
    options: {
      animation: false,
      responsive: false,
      events: [],
      layout: { padding: { left: 0, right: padRight, top: 32, bottom: 0 } },
      scales: {
        x: {
          type: 'linear', min: xMin, max: xMax,
          afterBuildTicks: (s: any) => { s.ticks = tickDays.map((v) => ({ value: v })); },
          afterFit: (s: any) => { s.height = 264; },
          ticks: {
            autoSkip: false, minRotation: 90, maxRotation: 90, labelOffset, padding: 16, color: '#000',
            font: { family: FONT, size: 34 },
            callback: (_v: any, i: number) => tickLabels[i] ?? '',
          },
          grid: axisGrid(11),
          border,
        },
        y: {
          type: 'linear', reverse: true, min: -1.3, max: 60.6,
          afterBuildTicks: (s: any) => { s.ticks = depthTicks.map((v) => ({ value: v })); },
          afterFit: (s: any) => { s.width = yAxisWidth; },
          ticks: { padding: 5, color: '#000', font: { family: NARROW_FONT, size: 45 }, callback: (v: any) => (showY ? String(v) : '') },
          grid: axisGrid(15),
          border,
        },
      },
      plugins: { legend: { display: false }, tooltip: { enabled: false } },
    },
    plugins: [nightBandsPlugin(nights)],
  };
}

export default function App() {
  const cbRef = useRef<HTMLCanvasElement>(null);
  const leftRef = useRef<HTMLCanvasElement>(null);
  const rightRef = useRef<HTMLCanvasElement>(null);

  useEffect(() => {
    const charts: Chart[] = [];
    charts.push(new Chart(cbRef.current as HTMLCanvasElement, {
      type: 'scatter',
      data: { datasets: [] },
      options: {
        animation: false,
        responsive: false,
        events: [],
        layout: { padding: { left: 467 / CB_SQUEEZE, right: CB_W - 1830 / CB_SQUEEZE, top: 0, bottom: 14 } },
        scales: {
          x: {
            type: 'linear', position: 'top', min: 0, max: distanceMax,
            afterBuildTicks: (s: any) => { s.ticks = distanceTicks.map((v) => ({ value: v })); },
            afterFit: (s: any) => { s.height = 132; },
            grid: { display: false },
            border: { display: false },
            ticks: { color: '#000', padding: -15, maxRotation: 0, minRotation: 0, font: { family: FONT, size: 53 }, callback: (_v: any, i: number) => distanceTickLabels[i] },
            title: { display: true, text: 'Distance from release (m)', color: '#000', font: { family: FONT, size: 63 }, padding: { top: 0, bottom: 0 } },
          },
          y: { display: false, min: 0, max: 1 },
        },
        plugins: { legend: { display: false }, tooltip: { enabled: false } },
      } as any,
      plugins: [colorBarPlugin],
    } as any));
    charts.push(new Chart(leftRef.current as HTMLCanvasElement, panelConfig(fish1631, leftTickDays, leftTickLabels, leftNights, 7.51, 19.453, 173, true, 52, 13) as any));
    charts.push(new Chart(rightRef.current as HTMLCanvasElement, panelConfig(fish1657, rightTickDays, rightTickLabels, rightNights, 7.58, 15.387, 50, false, 72, 13) as any));
    return () => { charts.forEach((c) => c.destroy()); };
  }, []);

  const abs = (l: number, t: number, w: number, h: number): React.CSSProperties => ({ position: 'absolute', left: l, top: t, width: w, height: h });
  const textStyle = (cx: number, cy: number, size: number, bold: boolean, family: string, rotate = 0): React.CSSProperties => ({
    position: 'absolute', left: cx, top: cy, transform: `translate(-50%, -50%) rotate(${rotate}deg)`, fontFamily: family,
    fontSize: size, fontWeight: bold ? 700 : 400, lineHeight: 1, whiteSpace: 'nowrap', color: '#000',
  });

  return (
    <div style={{ position: 'absolute', left: 0, top: 0, width: 2190, height: 1032, background: '#fff', overflow: 'hidden' }}>
      <canvas ref={cbRef} width={CB_W} height={200} style={{ ...abs(0, 0, CB_W, 200), transform: `scaleX(${CB_SQUEEZE})`, transformOrigin: '0 0' }} />
      <canvas ref={leftRef} width={1160} height={832} style={abs(0, 200, 1160, 832)} />
      <canvas ref={rightRef} width={1030} height={832} style={abs(1160, 200, 1030, 832)} />
      <div style={textStyle(42, 524, 57, false, FONT, -90)}>Depth (m)</div>
      <div style={textStyle(1196, 961, 53, false, FONT)}>Date</div>
      <div style={textStyle(670, 1013, 42, true, "Lato, 'Open Sans', sans-serif")}>Fish 1631</div>
      <div style={textStyle(1659, 1013, 42, true, "Lato, 'Open Sans', sans-serif")}>Fish 1657</div>
    </div>
  );
}
